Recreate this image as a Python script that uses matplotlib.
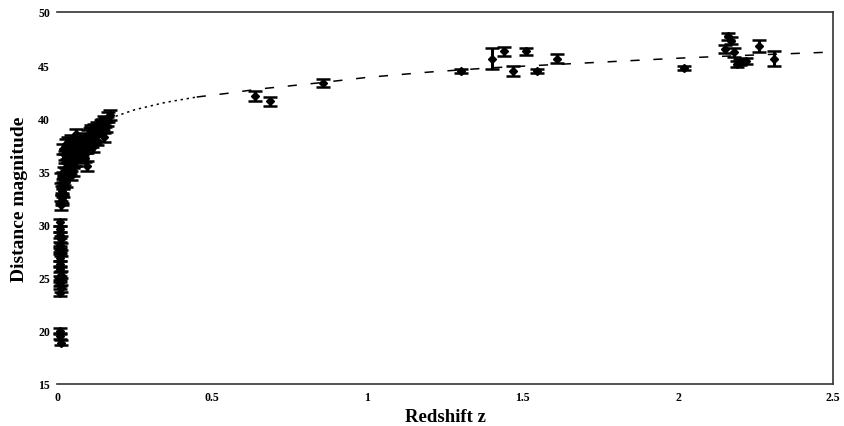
"""Hubble diagram: distance magnitude against redshift, with a model curve."""

import matplotlib

matplotlib.use("Agg")
import matplotlib.pyplot as plt
import numpy as np

# nearby objects at z ~ 0 (Cepheid-like distances)
near_z = [0.010, 0.011, 0.010, 0.012, 0.011, 0.010, 0.012, 0.011, 0.010,
          0.011, 0.012, 0.010, 0.011, 0.012, 0.011, 0.010, 0.011, 0.012]
near_mu = [30.2, 29.6, 29.0, 28.6, 28.1, 27.7, 27.3, 26.9, 26.3,
           25.8, 25.3, 24.9, 24.5, 24.0, 23.6, 20.0, 19.5, 18.9]
near_err = [0.3, 0.3, 0.3, 0.3, 0.3, 0.3, 0.3, 0.3, 0.3,
            0.3, 0.3, 0.3, 0.3, 0.3, 0.3, 0.3, 0.3, 0.2]

# low-redshift supernovae
low_z = [0.014, 0.016, 0.015, 0.020, 0.014, 0.030, 0.022, 0.045, 0.035,
         0.040, 0.025, 0.032, 0.055, 0.050, 0.062, 0.030, 0.070, 0.085,
         0.075, 0.095, 0.065, 0.080, 0.090, 0.100, 0.105, 0.092, 0.110,
         0.118, 0.120, 0.108, 0.130, 0.125, 0.140, 0.138, 0.150, 0.145,
         0.150, 0.155, 0.165, 0.172, 0.060, 0.078, 0.045, 0.068, 0.018,
         0.028, 0.060, 0.072, 0.082, 0.038, 0.042, 0.050, 0.088, 0.098,
         0.112, 0.128, 0.135, 0.158, 0.090, 0.048, 0.016, 0.040, 0.052,
         0.082, 0.100, 0.135, 0.160, 0.148, 0.024, 0.036, 0.058, 0.076,
         0.115, 0.122, 0.020, 0.026, 0.034, 0.018]
low_mu = [31.8, 32.5, 33.2, 33.8, 34.4, 34.9, 35.0, 34.6, 35.4,
          35.9, 36.2, 36.6, 36.3, 36.9, 37.4, 37.6, 37.9, 37.2,
          36.5, 35.5, 37.0, 37.8, 38.2, 37.5, 38.6, 38.0, 38.9,
          38.4, 39.0, 38.7, 39.2, 38.3, 39.4, 39.1, 38.2, 39.5,
          39.8, 39.6, 40.1, 40.3, 38.5, 37.9, 38.0, 36.8, 33.0,
          34.0, 36.0, 36.2, 37.0, 35.7, 35.2, 35.0, 37.6, 37.2,
          37.7, 37.9, 38.9, 39.2, 36.3, 37.2, 32.3, 36.8, 35.8,
          36.6, 38.4, 38.8, 39.7, 39.3, 34.2, 35.3, 36.0, 36.9,
          37.3, 38.0, 37.1, 36.5, 37.8, 34.5]
low_err = [0.45] * len(low_z)

# high-redshift objects
high_z = [0.637, 0.686, 0.857, 1.30, 1.40, 1.44, 1.51, 1.47, 1.545, 1.61,
          2.02, 2.16, 2.17, 2.18, 2.19, 2.15, 2.22, 2.26, 2.31, 2.20]
high_mu = [42.1, 41.6, 43.3, 44.45, 45.6, 46.3, 46.3, 44.45, 44.45, 45.6,
           44.7, 47.7, 47.3, 46.2, 45.1, 46.5, 45.4, 46.8, 45.6, 45.3]
high_err = [0.5, 0.4, 0.4, 0.2, 1.0, 0.4, 0.35, 0.45, 0.2, 0.4,
            0.2, 0.3, 0.3, 0.4, 0.3, 0.4, 0.3, 0.6, 0.7, 0.3]

# model curve
curve_z = [0.17, 0.25, 0.35, 0.45, 0.55, 0.65, 0.75, 0.85, 1.0, 1.2,
           1.4, 1.6, 1.8, 2.0, 2.2, 2.47]
curve_mu = [40.0, 40.8, 41.5, 42.0, 42.35, 42.75, 43.05, 43.35, 43.85, 44.35,
            44.75, 45.05, 45.35, 45.65, 45.9, 46.2]

x_ticks = [0, 0.5, 1, 1.5, 2, 2.5]
x_tick_labels = ["0", "0.5", "1", "1.5", "2", "2.5"]
y_ticks = [15, 20, 25, 30, 35, 40, 45, 50]

plt.rcParams["font.family"] = ["Liberation Serif", "DejaVu Serif"]
plt.rcParams["font.weight"] = "bold"

fig = plt.figure(figsize=(8.45, 4.27), dpi=100)
ax = fig.add_axes([0.0675, 0.0984, 0.9185, 0.8712])

err_style = dict(fmt="D", color="black", markersize=4, elinewidth=2.2,
                 capsize=5, capthick=1.8, ecolor="black", zorder=3,
                 clip_on=False)
for zs, mus, errs in [(near_z, near_mu, near_err),
                      (low_z, low_mu, low_err),
                      (high_z, high_mu, high_err)]:
    ax.errorbar(zs, mus, yerr=errs, **err_style)

cz = np.array(curve_z)
cmu = np.array(curve_mu)
inner = cz <= 0.45
outer = cz >= 0.45
ax.plot(cz[inner], cmu[inner], color="black", lw=1.1,
        linestyle=(0, (1.5, 2.5)), zorder=2)
ax.plot(cz[outer], cmu[outer], color="black", lw=1.1,
        linestyle=(0, (6, 9)), zorder=2)

ax.set_xlim(0, 2.5)
ax.set_ylim(15, 50)
ax.set_xticks(x_ticks)
ax.set_xticklabels(x_tick_labels)
ax.set_yticks(y_ticks)
ax.tick_params(axis="both", length=0, labelsize=8.5, pad=5)

ax.spines["left"].set_visible(False)
for side in ["top", "right", "bottom"]:
    ax.spines[side].set_linewidth(1.2)
    ax.spines[side].set_color("#333333")

ax.set_xlabel("Redshift z", fontsize=13.5, fontweight="bold", labelpad=4)
ax.set_ylabel("Distance magnitude", fontsize=14, fontweight="bold",
              labelpad=7)

fig.savefig("out.png", dpi=100)
